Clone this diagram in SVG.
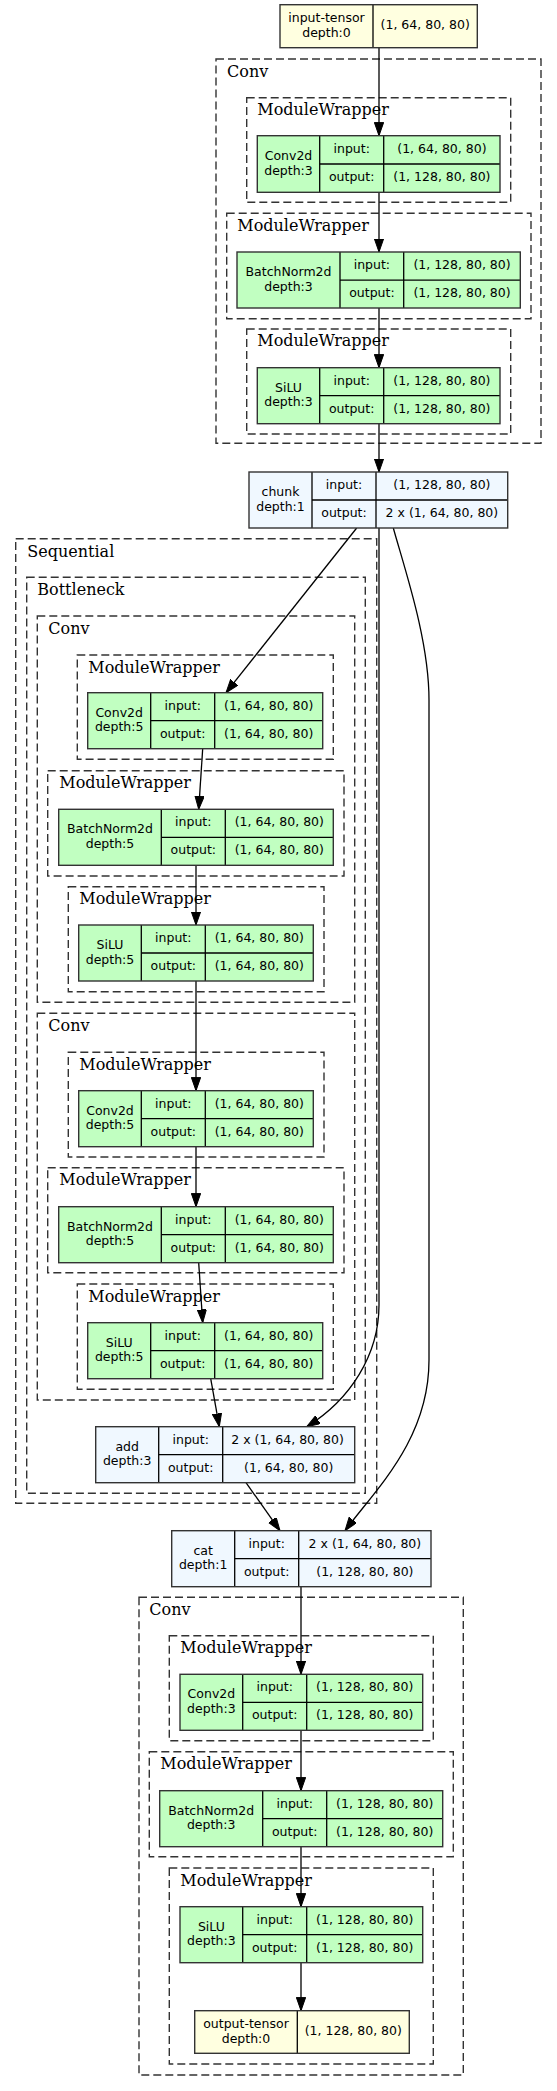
<svg xmlns="http://www.w3.org/2000/svg" width="557" height="2091" viewBox="0 0 557 2091">
<style>
.cl{fill:none;stroke:#333;stroke-width:1.4;stroke-dasharray:8,4}
.cll{font-family:"DejaVu Serif","Liberation Serif",serif;font-size:16px;fill:#000}
.g{fill:#c1ffc1}
.b{fill:#f0f8ff}
.y{fill:#ffffe0}
.bd{fill:none;stroke:#333;stroke-width:1.4}
.ln{stroke:#000;stroke-width:1.3}
.t{font-family:"DejaVu Sans","Liberation Sans",sans-serif;font-size:12.5px;fill:#000;text-anchor:middle}
.e{fill:none;stroke:#000;stroke-width:1.3}
</style>
<defs>
<marker id="ah" markerUnits="userSpaceOnUse" markerWidth="14" markerHeight="10" refX="13.3" refY="4.67" orient="auto" viewBox="0 0 14 10">
<path d="M0,0 L13.3,4.67 L0,9.33 z" fill="#000" stroke="#000" stroke-width="1"/>
</marker>
</defs>
<rect width="557" height="2091" fill="#fff"/>
<g id="clusters">
<rect class="cl" x="216" y="59" width="325" height="384.3"/><text class="cll" x="227" y="76.5">Conv</text>
<rect class="cl" x="246.7" y="97.7" width="264" height="104.6"/><text class="cll" x="257.3" y="115">ModuleWrapper</text>
<rect class="cl" x="226.7" y="213.3" width="304.3" height="105.4"/><text class="cll" x="237.3" y="230.7">ModuleWrapper</text>
<rect class="cl" x="246.7" y="329" width="264" height="105"/><text class="cll" x="257.3" y="346.4">ModuleWrapper</text>
<rect class="cl" x="15.7" y="538.7" width="361" height="964.6"/><text class="cll" x="27.3" y="556.7">Sequential</text>
<rect class="cl" x="26.7" y="577.3" width="338.6" height="916"/><text class="cll" x="37.3" y="595">Bottleneck</text>
<rect class="cl" x="37.3" y="616" width="317.4" height="386.3"/><text class="cll" x="48.3" y="634">Conv</text>
<rect class="cl" x="77.3" y="655" width="256" height="104.3"/><text class="cll" x="88.3" y="672.7">ModuleWrapper</text>
<rect class="cl" x="47.7" y="770.7" width="296.3" height="105.3"/><text class="cll" x="59.3" y="788.4">ModuleWrapper</text>
<rect class="cl" x="68.3" y="886.7" width="255.7" height="105"/><text class="cll" x="79.3" y="904.4">ModuleWrapper</text>
<rect class="cl" x="37.3" y="1013.3" width="317.4" height="386.7"/><text class="cll" x="48.3" y="1031">Conv</text>
<rect class="cl" x="68.3" y="1052.3" width="255.7" height="104.7"/><text class="cll" x="79.3" y="1070">ModuleWrapper</text>
<rect class="cl" x="47.7" y="1167.7" width="296.3" height="105"/><text class="cll" x="59.3" y="1185.4">ModuleWrapper</text>
<rect class="cl" x="77.3" y="1284" width="256" height="105.3"/><text class="cll" x="88.3" y="1301.7">ModuleWrapper</text>
<rect class="cl" x="139" y="1597.3" width="324.3" height="477.7"/><text class="cll" x="149.3" y="1615">Conv</text>
<rect class="cl" x="169.3" y="1635.7" width="264" height="105"/><text class="cll" x="180.3" y="1653.4">ModuleWrapper</text>
<rect class="cl" x="149.3" y="1751.7" width="304" height="105"/><text class="cll" x="160.3" y="1769.4">ModuleWrapper</text>
<rect class="cl" x="169.3" y="1868" width="264" height="196"/><text class="cll" x="180.3" y="1885.7">ModuleWrapper</text>
</g>
<g id="edges">
<path class="e" d="M379,47.7 L379,135.7" marker-end="url(#ah)"/>
<path class="e" d="M379,192.3 L379,252" marker-end="url(#ah)"/>
<path class="e" d="M379,308 L379,367.7" marker-end="url(#ah)"/>
<path class="e" d="M379,423.7 L379,472" marker-end="url(#ah)"/>
<path class="e" d="M356.7,528 L226,692.7" marker-end="url(#ah)"/>
<path class="e" d="M379,528 L379,1305 C379,1355 350,1400 306.7,1426.7" marker-end="url(#ah)"/>
<path class="e" d="M393.3,528 C405,570 429,640 429,700 L429,1360 C429,1440 375,1490 345,1530.7" marker-end="url(#ah)"/>
<path class="e" d="M202.7,748.7 L198.7,809.3" marker-end="url(#ah)"/>
<path class="e" d="M196,865.3 L196,925" marker-end="url(#ah)"/>
<path class="e" d="M196,981 L196,1090.7" marker-end="url(#ah)"/>
<path class="e" d="M196,1146.7 L196,1206.7" marker-end="url(#ah)"/>
<path class="e" d="M198.7,1262.7 L202.7,1322.7" marker-end="url(#ah)"/>
<path class="e" d="M210.7,1378.7 L219.3,1426.7" marker-end="url(#ah)"/>
<path class="e" d="M246,1482.7 L280,1530.7" marker-end="url(#ah)"/>
<path class="e" d="M301,1586.7 L301,1674.3" marker-end="url(#ah)"/>
<path class="e" d="M301,1730.3 L301,1790.7" marker-end="url(#ah)"/>
<path class="e" d="M301,1846.7 L301,1906.7" marker-end="url(#ah)"/>
<path class="e" d="M301,1962.7 L301,2010.7" marker-end="url(#ah)"/>
</g>
<g id="input-tensor">
<rect class="y" x="280" y="4.7" width="197.3" height="43"/>
<line class="ln" x1="373" y1="4.7" x2="373" y2="47.7"/>
<rect class="bd" x="280" y="4.7" width="197.3" height="43"/>
<text class="t" x="326.5" y="22.2">input-tensor</text><text class="t" x="326.5" y="36.7">depth:0</text>
<text class="t" x="425.2" y="29.2">(1, 64, 80, 80)</text>
</g>
<g id="conv2d-1">
<rect class="g" x="257.3" y="135.7" width="242.7" height="56.6"/>
<line class="ln" x1="319.7" y1="135.7" x2="319.7" y2="192.3"/><line class="ln" x1="383.7" y1="135.7" x2="383.7" y2="192.3"/><line class="ln" x1="319.7" y1="164" x2="500" y2="164"/>
<rect class="bd" x="257.3" y="135.7" width="242.7" height="56.6"/>
<text class="t" x="288.5" y="160">Conv2d</text><text class="t" x="288.5" y="174.5">depth:3</text>
<text class="t" x="351.7" y="152.9">input:</text><text class="t" x="351.7" y="181.2">output:</text>
<text class="t" x="441.9" y="152.9">(1, 64, 80, 80)</text><text class="t" x="441.9" y="181.2">(1, 128, 80, 80)</text>
</g>
<g id="batchnorm2d-1">
<rect class="g" x="237" y="252" width="283.3" height="56"/>
<line class="ln" x1="340" y1="252" x2="340" y2="308"/><line class="ln" x1="403.7" y1="252" x2="403.7" y2="308"/><line class="ln" x1="340" y1="280.2" x2="520.3" y2="280.2"/>
<rect class="bd" x="237" y="252" width="283.3" height="56"/>
<text class="t" x="288.5" y="276">BatchNorm2d</text><text class="t" x="288.5" y="290.5">depth:3</text>
<text class="t" x="371.9" y="269.1">input:</text><text class="t" x="371.9" y="297.1">output:</text>
<text class="t" x="462" y="269.1">(1, 128, 80, 80)</text><text class="t" x="462" y="297.1">(1, 128, 80, 80)</text>
</g>
<g id="silu-1">
<rect class="g" x="257.3" y="367.7" width="242.7" height="56"/>
<line class="ln" x1="319.7" y1="367.7" x2="319.7" y2="423.7"/><line class="ln" x1="383.7" y1="367.7" x2="383.7" y2="423.7"/><line class="ln" x1="319.7" y1="395.7" x2="500" y2="395.7"/>
<rect class="bd" x="257.3" y="367.7" width="242.7" height="56"/>
<text class="t" x="288.5" y="391.7">SiLU</text><text class="t" x="288.5" y="406.2">depth:3</text>
<text class="t" x="351.7" y="384.7">input:</text><text class="t" x="351.7" y="412.7">output:</text>
<text class="t" x="441.9" y="384.7">(1, 128, 80, 80)</text><text class="t" x="441.9" y="412.7">(1, 128, 80, 80)</text>
</g>
<g id="chunk">
<rect class="b" x="249" y="472" width="258.7" height="56"/>
<line class="ln" x1="312" y1="472" x2="312" y2="528"/><line class="ln" x1="376" y1="472" x2="376" y2="528"/><line class="ln" x1="312" y1="500" x2="507.7" y2="500"/>
<rect class="bd" x="249" y="472" width="258.7" height="56"/>
<text class="t" x="280.5" y="496">chunk</text><text class="t" x="280.5" y="510.5">depth:1</text>
<text class="t" x="344" y="489">input:</text><text class="t" x="344" y="517">output:</text>
<text class="t" x="441.9" y="489">(1, 128, 80, 80)</text><text class="t" x="441.9" y="517">2 x (1, 64, 80, 80)</text>
</g>
<g id="conv2d-2">
<rect class="g" x="87.7" y="692.7" width="235" height="56"/>
<line class="ln" x1="150.7" y1="692.7" x2="150.7" y2="748.7"/><line class="ln" x1="214.7" y1="692.7" x2="214.7" y2="748.7"/><line class="ln" x1="150.7" y1="720.7" x2="322.7" y2="720.7"/>
<rect class="bd" x="87.7" y="692.7" width="235" height="56"/>
<text class="t" x="119.2" y="716.7">Conv2d</text><text class="t" x="119.2" y="731.2">depth:5</text>
<text class="t" x="182.7" y="709.7">input:</text><text class="t" x="182.7" y="737.7">output:</text>
<text class="t" x="268.7" y="709.7">(1, 64, 80, 80)</text><text class="t" x="268.7" y="737.7">(1, 64, 80, 80)</text>
</g>
<g id="batchnorm2d-2">
<rect class="g" x="58.7" y="809.3" width="274.6" height="56"/>
<line class="ln" x1="161.3" y1="809.3" x2="161.3" y2="865.3"/><line class="ln" x1="225.3" y1="809.3" x2="225.3" y2="865.3"/><line class="ln" x1="161.3" y1="837.3" x2="333.3" y2="837.3"/>
<rect class="bd" x="58.7" y="809.3" width="274.6" height="56"/>
<text class="t" x="110" y="833.3">BatchNorm2d</text><text class="t" x="110" y="847.8">depth:5</text>
<text class="t" x="193.3" y="826.3">input:</text><text class="t" x="193.3" y="854.3">output:</text>
<text class="t" x="279.3" y="826.3">(1, 64, 80, 80)</text><text class="t" x="279.3" y="854.3">(1, 64, 80, 80)</text>
</g>
<g id="silu-2">
<rect class="g" x="78.7" y="925" width="234.6" height="56"/>
<line class="ln" x1="141.3" y1="925" x2="141.3" y2="981"/><line class="ln" x1="205.3" y1="925" x2="205.3" y2="981"/><line class="ln" x1="141.3" y1="953" x2="313.3" y2="953"/>
<rect class="bd" x="78.7" y="925" width="234.6" height="56"/>
<text class="t" x="110" y="949">SiLU</text><text class="t" x="110" y="963.5">depth:5</text>
<text class="t" x="173.3" y="942">input:</text><text class="t" x="173.3" y="970">output:</text>
<text class="t" x="259.3" y="942">(1, 64, 80, 80)</text><text class="t" x="259.3" y="970">(1, 64, 80, 80)</text>
</g>
<g id="conv2d-3">
<rect class="g" x="78.7" y="1090.7" width="234.6" height="56"/>
<line class="ln" x1="141.3" y1="1090.7" x2="141.3" y2="1146.7"/><line class="ln" x1="205.3" y1="1090.7" x2="205.3" y2="1146.7"/><line class="ln" x1="141.3" y1="1118.7" x2="313.3" y2="1118.7"/>
<rect class="bd" x="78.7" y="1090.7" width="234.6" height="56"/>
<text class="t" x="110" y="1114.7">Conv2d</text><text class="t" x="110" y="1129.2">depth:5</text>
<text class="t" x="173.3" y="1107.7">input:</text><text class="t" x="173.3" y="1135.7">output:</text>
<text class="t" x="259.3" y="1107.7">(1, 64, 80, 80)</text><text class="t" x="259.3" y="1135.7">(1, 64, 80, 80)</text>
</g>
<g id="batchnorm2d-3">
<rect class="g" x="58.7" y="1206.7" width="274.6" height="56"/>
<line class="ln" x1="161.3" y1="1206.7" x2="161.3" y2="1262.7"/><line class="ln" x1="225.3" y1="1206.7" x2="225.3" y2="1262.7"/><line class="ln" x1="161.3" y1="1234.7" x2="333.3" y2="1234.7"/>
<rect class="bd" x="58.7" y="1206.7" width="274.6" height="56"/>
<text class="t" x="110" y="1230.7">BatchNorm2d</text><text class="t" x="110" y="1245.2">depth:5</text>
<text class="t" x="193.3" y="1223.7">input:</text><text class="t" x="193.3" y="1251.7">output:</text>
<text class="t" x="279.3" y="1223.7">(1, 64, 80, 80)</text><text class="t" x="279.3" y="1251.7">(1, 64, 80, 80)</text>
</g>
<g id="silu-3">
<rect class="g" x="87.7" y="1322.7" width="235" height="56"/>
<line class="ln" x1="150.7" y1="1322.7" x2="150.7" y2="1378.7"/><line class="ln" x1="214.7" y1="1322.7" x2="214.7" y2="1378.7"/><line class="ln" x1="150.7" y1="1350.7" x2="322.7" y2="1350.7"/>
<rect class="bd" x="87.7" y="1322.7" width="235" height="56"/>
<text class="t" x="119.2" y="1346.7">SiLU</text><text class="t" x="119.2" y="1361.2">depth:5</text>
<text class="t" x="182.7" y="1339.7">input:</text><text class="t" x="182.7" y="1367.7">output:</text>
<text class="t" x="268.7" y="1339.7">(1, 64, 80, 80)</text><text class="t" x="268.7" y="1367.7">(1, 64, 80, 80)</text>
</g>
<g id="add">
<rect class="b" x="95.7" y="1426.7" width="259" height="56"/>
<line class="ln" x1="158.7" y1="1426.7" x2="158.7" y2="1482.7"/><line class="ln" x1="222.7" y1="1426.7" x2="222.7" y2="1482.7"/><line class="ln" x1="158.7" y1="1454.7" x2="354.7" y2="1454.7"/>
<rect class="bd" x="95.7" y="1426.7" width="259" height="56"/>
<text class="t" x="127.2" y="1450.7">add</text><text class="t" x="127.2" y="1465.2">depth:3</text>
<text class="t" x="190.7" y="1443.7">input:</text><text class="t" x="190.7" y="1471.7">output:</text>
<text class="t" x="287.5" y="1443.7">2 x (1, 64, 80, 80)</text><text class="t" x="288.7" y="1471.7">(1, 64, 80, 80)</text>
</g>
<g id="cat">
<rect class="b" x="171.7" y="1530.7" width="259.3" height="56"/>
<line class="ln" x1="234.7" y1="1530.7" x2="234.7" y2="1586.7"/><line class="ln" x1="298.7" y1="1530.7" x2="298.7" y2="1586.7"/><line class="ln" x1="234.7" y1="1558.7" x2="431" y2="1558.7"/>
<rect class="bd" x="171.7" y="1530.7" width="259.3" height="56"/>
<text class="t" x="203.2" y="1554.7">cat</text><text class="t" x="203.2" y="1569.2">depth:1</text>
<text class="t" x="266.7" y="1547.7">input:</text><text class="t" x="266.7" y="1575.7">output:</text>
<text class="t" x="364.9" y="1547.7">2 x (1, 64, 80, 80)</text><text class="t" x="364.9" y="1575.7">(1, 128, 80, 80)</text>
</g>
<g id="conv2d-4">
<rect class="g" x="180" y="1674.3" width="242.7" height="56"/>
<line class="ln" x1="242.7" y1="1674.3" x2="242.7" y2="1730.3"/><line class="ln" x1="306.7" y1="1674.3" x2="306.7" y2="1730.3"/><line class="ln" x1="242.7" y1="1702.3" x2="422.7" y2="1702.3"/>
<rect class="bd" x="180" y="1674.3" width="242.7" height="56"/>
<text class="t" x="211.4" y="1698.3">Conv2d</text><text class="t" x="211.4" y="1712.8">depth:3</text>
<text class="t" x="274.7" y="1691.3">input:</text><text class="t" x="274.7" y="1719.3">output:</text>
<text class="t" x="364.7" y="1691.3">(1, 128, 80, 80)</text><text class="t" x="364.7" y="1719.3">(1, 128, 80, 80)</text>
</g>
<g id="batchnorm2d-4">
<rect class="g" x="159.7" y="1790.7" width="283" height="56"/>
<line class="ln" x1="262.7" y1="1790.7" x2="262.7" y2="1846.7"/><line class="ln" x1="326.7" y1="1790.7" x2="326.7" y2="1846.7"/><line class="ln" x1="262.7" y1="1818.7" x2="442.7" y2="1818.7"/>
<rect class="bd" x="159.7" y="1790.7" width="283" height="56"/>
<text class="t" x="211.2" y="1814.7">BatchNorm2d</text><text class="t" x="211.2" y="1829.2">depth:3</text>
<text class="t" x="294.7" y="1807.7">input:</text><text class="t" x="294.7" y="1835.7">output:</text>
<text class="t" x="384.7" y="1807.7">(1, 128, 80, 80)</text><text class="t" x="384.7" y="1835.7">(1, 128, 80, 80)</text>
</g>
<g id="silu-4">
<rect class="g" x="180" y="1906.7" width="242.7" height="56"/>
<line class="ln" x1="242.7" y1="1906.7" x2="242.7" y2="1962.7"/><line class="ln" x1="306.7" y1="1906.7" x2="306.7" y2="1962.7"/><line class="ln" x1="242.7" y1="1934.7" x2="422.7" y2="1934.7"/>
<rect class="bd" x="180" y="1906.7" width="242.7" height="56"/>
<text class="t" x="211.4" y="1930.7">SiLU</text><text class="t" x="211.4" y="1945.2">depth:3</text>
<text class="t" x="274.7" y="1923.7">input:</text><text class="t" x="274.7" y="1951.7">output:</text>
<text class="t" x="364.7" y="1923.7">(1, 128, 80, 80)</text><text class="t" x="364.7" y="1951.7">(1, 128, 80, 80)</text>
</g>
<g id="output-tensor">
<rect class="y" x="194.7" y="2010.7" width="214.6" height="42.6"/>
<line class="ln" x1="297.3" y1="2010.7" x2="297.3" y2="2053.3"/>
<rect class="bd" x="194.7" y="2010.7" width="214.6" height="42.6"/>
<text class="t" x="246" y="2028">output-tensor</text><text class="t" x="246" y="2042.5">depth:0</text>
<text class="t" x="353.3" y="2035">(1, 128, 80, 80)</text>
</g>
</svg>
